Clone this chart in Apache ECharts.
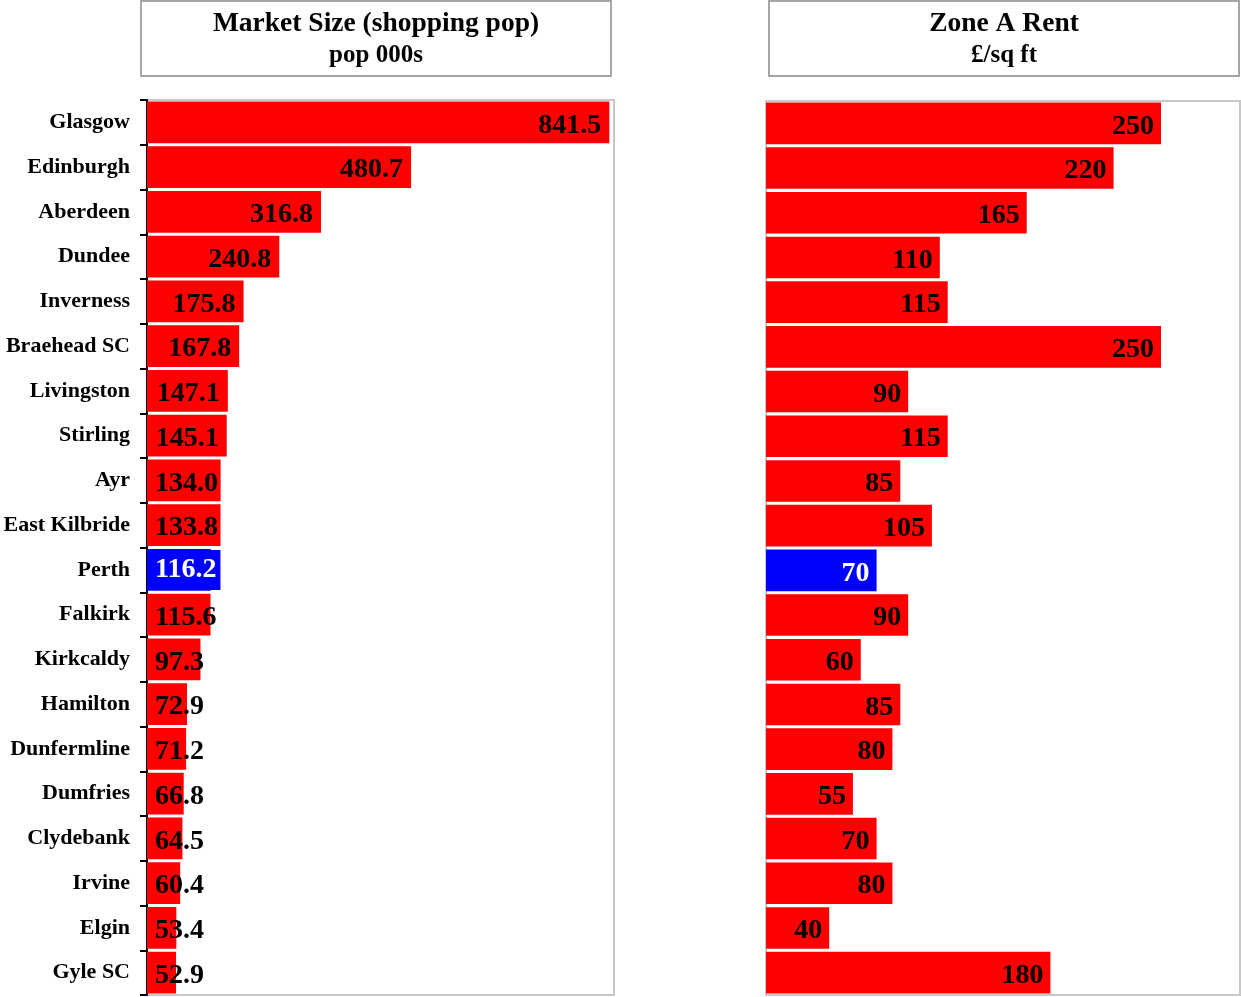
<!DOCTYPE html>
<html>
<head>
<meta charset="utf-8">
<script src="https://cdn.jsdelivr.net/npm/echarts@6/dist/echarts.min.js"></script>
<style>
  html, body { margin: 0; padding: 0; background: #fff; }
  #chart { width: 1241px; height: 997px; }
</style>
</head>
<body>
<div id="chart"></div>
<script>
// Scottish retail centres: catchment size and prime rent
const cities = ['Glasgow', 'Edinburgh', 'Aberdeen', 'Dundee', 'Inverness', 'Braehead SC',
  'Livingston', 'Stirling', 'Ayr', 'East Kilbride', 'Perth', 'Falkirk', 'Kirkcaldy',
  'Hamilton', 'Dunfermline', 'Dumfries', 'Clydebank', 'Irvine', 'Elgin', 'Gyle SC'];
const shoppingPop = [841.5, 480.7, 316.8, 240.8, 175.8, 167.8, 147.1, 145.1, 134.0, 133.8,
  116.2, 115.6, 97.3, 72.9, 71.2, 66.8, 64.5, 60.4, 53.4, 52.9];
const zoneARent = [250, 220, 165, 110, 115, 250, 90, 115, 85, 105, 70, 90, 60, 85, 80, 55,
  70, 80, 40, 180];
const highlight = 'Perth';

const popTitle = ['Market Size (shopping pop)', 'pop 000s'];
const rentTitle = ['Zone A Rent', '£/sq ft'];

const SERIF = '"Liberation Serif", "Times New Roman", serif';
const RED = '#ff0000';
const BLUE = '#0000ff';
const W = 1241, H = 997;

// panel geometry
const leftGrid = { left: 147, right: W - 614, top: 100, bottom: 2 };
const rightGrid = { left: 766, right: 1, top: 101, bottom: 2 };
const popMax = 850, rentMax = 300;
const VALUE_SIZE = 28;
const labelFont = 'bold ' + VALUE_SIZE + 'px ' + SERIF;

const ctx = document.createElement('canvas').getContext('2d');
ctx.font = labelFont;
function textWidth(s) { return ctx.measureText(s).width; }

// values sit at the bar end; when the bar is too short they start from the axis
function popItem(v, i) {
  const isHi = cities[i] === highlight;
  const plotW = W - leftGrid.left - leftGrid.right;
  const barPx = v / popMax * plotW;
  const txt = v.toFixed(1);
  const fits = barPx >= textWidth(txt) + 16;
  const label = {
    position: fits ? 'insideRight' : 'insideLeft',
    distance: 8,
    color: isHi ? '#fff' : '#000',
    formatter: txt
  };
  if (isHi && !fits) {
    // keep white text readable where it runs past the bar
    Object.assign(label, { distance: 0, offset: [0, 0], backgroundColor: BLUE, padding: [9, 4, 3, 8] });
  }
  return { value: v, itemStyle: { color: isHi ? BLUE : RED }, label };
}
function rentItem(v, i) {
  const isHi = cities[i] === highlight;
  return {
    value: v,
    itemStyle: { color: isHi ? BLUE : RED },
    label: { color: isHi ? '#fff' : '#000' }
  };
}

function titleBox(x, lines) {
  const w = 472, h = 77;
  return {
    type: 'group',
    left: x, top: 0,
    children: [
      { type: 'rect', shape: { x: 1, y: 1, width: w - 2, height: h - 2 },
        style: { fill: '#fff', stroke: '#a6a6a6', lineWidth: 2 } },
      { type: 'text', x: w / 2, y: 24,
        style: { text: lines[0], font: 'bold 27.5px ' + SERIF, fill: '#000',
          textAlign: 'center', textVerticalAlign: 'middle' } },
      { type: 'text', x: w / 2, y: 56,
        style: { text: lines[1], font: 'bold 25px ' + SERIF, fill: '#000',
          textAlign: 'center', textVerticalAlign: 'middle' } }
    ]
  };
}

const chart = echarts.init(document.getElementById('chart'), null, { renderer: 'canvas' });
chart.setOption({
  animation: false,
  backgroundColor: '#fff',
  graphic: [titleBox(140, popTitle), titleBox(768, rentTitle)],
  grid: [
    Object.assign({ show: true, borderColor: '#c8c8c8', borderWidth: 2, backgroundColor: '#fff' }, leftGrid),
    Object.assign({ show: true, borderColor: '#c8c8c8', borderWidth: 2, backgroundColor: '#fff' }, rightGrid)
  ],
  xAxis: [
    { type: 'value', gridIndex: 0, min: 0, max: popMax, show: false },
    { type: 'value', gridIndex: 1, min: 0, max: rentMax, show: false }
  ],
  yAxis: [
    {
      type: 'category', gridIndex: 0, data: cities, inverse: true,
      axisLine: { show: true, lineStyle: { color: '#000', width: 2 } },
      axisTick: { show: true, length: 7, lineStyle: { color: '#000', width: 2 } },
      axisLabel: { margin: 17, fontFamily: SERIF, fontWeight: 'bold', fontSize: 22, color: '#000',
        padding: [0, 0, 6, 0] }
    },
    {
      type: 'category', gridIndex: 1, data: cities, inverse: true,
      axisLine: { show: false }, axisTick: { show: false }, axisLabel: { show: false }
    }
  ],
  series: [
    {
      type: 'bar', xAxisIndex: 0, yAxisIndex: 0,
      data: shoppingPop.map(popItem),
      barCategoryGap: '7%',
      label: { show: true, fontFamily: SERIF, fontWeight: 'bold', fontSize: VALUE_SIZE,
        offset: [0, 3] }
    },
    {
      type: 'bar', xAxisIndex: 1, yAxisIndex: 1,
      data: zoneARent.map(rentItem),
      barCategoryGap: '7%',
      label: { show: true, position: 'insideRight', distance: 7, offset: [0, 3],
        fontFamily: SERIF, fontWeight: 'bold', fontSize: VALUE_SIZE }
    }
  ]
});
</script>
</body>
</html>
